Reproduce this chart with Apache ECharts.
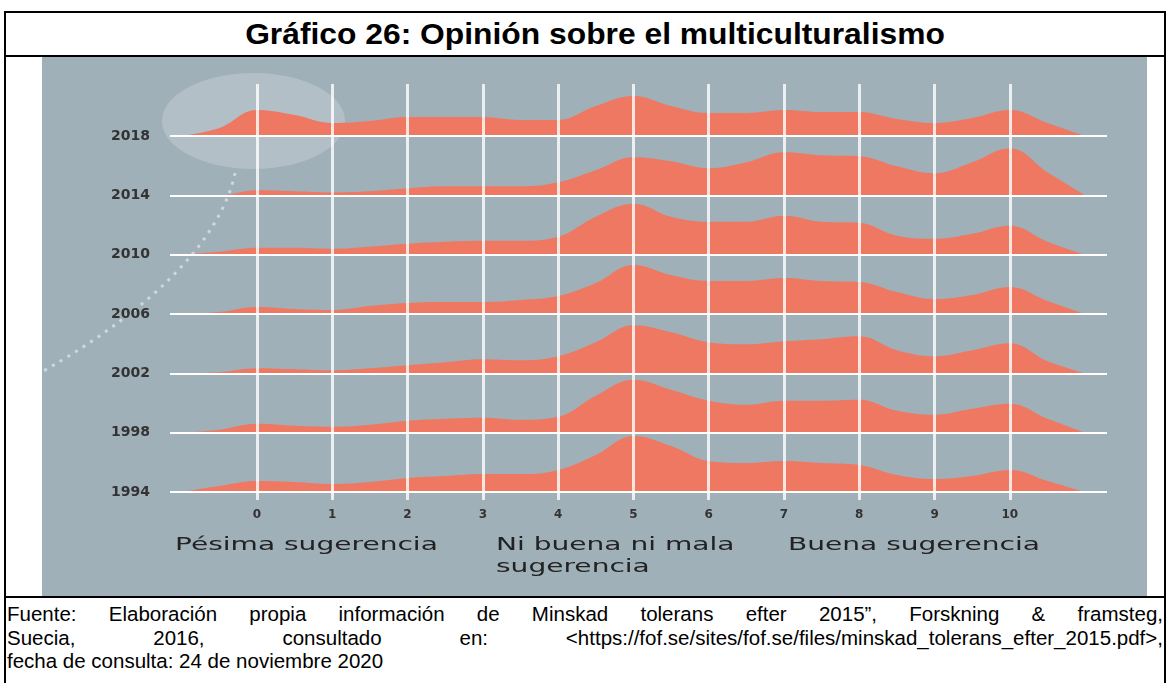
<!DOCTYPE html>
<html>
<head>
<meta charset="utf-8">
<script src="https://cdn.jsdelivr.net/npm/echarts@6/dist/echarts.min.js"></script>
<style>
html,body{margin:0;padding:0;background:#fff;}
#page{position:relative;width:1169px;height:683px;overflow:hidden;font-family:"Liberation Sans",Arial,sans-serif;color:#000;}
.ln{position:absolute;background:#000;}
#title{position:absolute;left:16px;width:1158px;top:13px;height:42px;line-height:42px;text-align:center;font-weight:bold;font-size:30px;transform:scaleX(1.06);}
#chart{position:absolute;left:42px;top:57px;width:1105px;height:539px;}
#foot{position:absolute;left:7px;width:1156px;top:602px;font-size:20.5px;line-height:23.5px;}
#foot div{white-space:nowrap;}
#foot div.j{white-space:normal;text-align:justify;text-align-last:justify;}
</style>
</head>
<body>
<div id="page">
  <div class="ln" style="left:4px;top:11px;width:1162px;height:2px;"></div>
  <div class="ln" style="left:4px;top:11px;width:2px;height:672px;"></div>
  <div class="ln" style="left:1164px;top:11px;width:2px;height:672px;"></div>
  <div class="ln" style="left:4px;top:55px;width:1162px;height:2px;"></div>
  <div class="ln" style="left:4px;top:596px;width:1162px;height:2px;"></div>
  <div id="title">Gráfico 26: Opinión sobre el multiculturalismo</div>
  <div id="chart"></div>
  <div id="foot">
    <div class="j">Fuente: Elaboración propia información de Minskad tolerans efter 2015”, Forskning &amp; framsteg,</div>
    <div class="j">Suecia, 2016, consultado en: &lt;https://fof.se/sites/fof.se/files/minskad_tolerans_efter_2015.pdf&gt;,</div>
    <div>fecha de consulta: 24 de noviembre 2020</div>
  </div>
</div>
<script>
// ---- data ----
const YEARS = ['1994', '1998', '2002', '2006', '2010', '2014', '2018'];
const SCORES = [-1, -0.5, 0, 0.5, 1, 1.5, 2, 2.5, 3, 3.5, 4, 4.5, 5, 5.5, 6, 6.5, 7, 7.5, 8, 8.5, 9, 9.5, 10, 10.5, 11];
const TICKS = ['0', '1', '2', '3', '4', '5', '6', '7', '8', '9', '10'];
const D1994 = [0, 6, 11, 10, 8, 10, 14, 16, 18, 18, 22, 37, 56, 46, 31, 29, 31, 29, 27, 17, 13, 16, 22, 11, 0];
const D1998 = [0, 3, 9, 7, 6, 8, 12, 14, 15, 13, 16, 37, 53, 43, 32, 28, 32, 32, 33, 22, 18, 24, 29, 14, 0];
const D2002 = [0, 1, 5, 4, 3, 5, 8, 11, 14, 13, 17, 31, 48, 41, 31, 29, 32, 34, 37, 23, 17, 23, 30, 12, 0];
const D2006 = [0, 2, 7, 5, 4, 8, 11, 12, 12, 14, 18, 31, 49, 39, 33, 33, 36, 33, 32, 22, 15, 19, 27, 13, 0];
const D2010 = [0, 3, 7, 7, 6, 8, 11, 13, 14, 14, 18, 38, 51, 38, 33, 33, 39, 33, 32, 19, 16, 21, 29, 13, 0];
const D2014 = [0, 0, 5, 4, 3, 4, 7, 9, 9, 9, 13, 25, 38, 34, 27, 33, 43, 40, 39, 29, 22, 33, 47, 23, 0];
const D2018 = [0, 8, 26, 21, 13, 15, 19, 19, 19, 16, 16, 30, 40, 30, 23, 23, 26, 24, 24, 17, 13, 18, 26, 13, 0];
const SCALE_LEFT = 'Pésima sugerencia';
const SCALE_MID_1 = 'Ni buena ni mala';
const SCALE_MID_2 = 'sugerencia';
const SCALE_RIGHT = 'Buena sugerencia';

// ---- layout / style ----
const DENS = { '1994': D1994, '1998': D1998, '2002': D2002, '2006': D2006, '2010': D2010, '2014': D2014, '2018': D2018 };
const ROW_BASE = 8, ROW_GAP = 59.33, Y_MAX = 416;
const X_MIN = -1.155, X_MAX = 11.29;
const SALMON = '#EF7862';
const BG = '#A0B0B8';

const series = [];
YEARS.forEach((yr, i) => {
  const base = ROW_BASE + i * ROW_GAP;
  series.push({
    type: 'line', silent: true, symbol: 'none', z: 3,
    smooth: 0.4,
    data: SCORES.map((x, k) => [x, base + DENS[yr][k]]),
    lineStyle: { width: 0, opacity: 0 },
    areaStyle: { color: SALMON, opacity: 1, origin: base }
  });
});

const labelFont = { fontFamily: 'DejaVu Sans', fontWeight: 'bold', color: '#333' };
const markData = [];
TICKS.forEach(t => {
  markData.push({
    xAxis: Number(t), name: t,
    lineStyle: { color: 'rgba(255,255,255,0.8)', width: 3, type: 'solid' },
    label: Object.assign({ show: true, position: 'start', formatter: '{b}', distance: 9, fontSize: 12 }, labelFont)
  });
});
YEARS.forEach((yr, i) => {
  markData.push({
    yAxis: ROW_BASE + i * ROW_GAP, name: yr,
    lineStyle: { color: '#ffffff', width: 2, type: 'solid' },
    label: Object.assign({ show: true, position: 'start', formatter: '{b}', distance: 20, fontSize: 14 }, labelFont)
  });
});
series.push({
  type: 'line', silent: true, symbol: 'none', z: 6,
  data: [[X_MIN, 0]],
  lineStyle: { opacity: 0 },
  markLine: { silent: true, symbol: ['none', 'none'], animation: false, data: markData }
});

const txt = (x, y, s) => ({
  type: 'text', x: x, y: y, scaleX: 1.65, z: 10,
  style: { text: s, fill: '#222', font: '17px "DejaVu Sans"', verticalAlign: 'middle', align: 'left' }
});

const chart = echarts.init(document.getElementById('chart'), null, { renderer: 'canvas' });
chart.setOption({
  animation: false,
  backgroundColor: BG,
  grid: { left: 128, top: 27, width: 937, height: 416, containLabel: false },
  xAxis: { type: 'value', min: X_MIN, max: X_MAX, show: false },
  yAxis: { type: 'value', min: 0, max: Y_MAX, show: false },
  graphic: [
    { type: 'ellipse', z: 1, silent: true, shape: { cx: 211.5, cy: 64, rx: 91.5, ry: 48 }, style: { fill: 'rgba(255,255,255,0.2)' } },
    { type: 'bezierCurve', z: 1, silent: true,
      shape: { x1: 193, y1: 116, cpx1: 180, cpy1: 178, cpx2: 118, cpy2: 248, x2: -2, y2: 316 },
      style: { stroke: 'rgba(255,255,255,0.5)', lineWidth: 3, lineDash: [3, 6], fill: null } },
    txt(133, 489, SCALE_LEFT),
    txt(454, 489, SCALE_MID_1),
    txt(454, 511, SCALE_MID_2),
    txt(746, 489, SCALE_RIGHT)
  ],
  series: series
});
</script>
</body>
</html>
